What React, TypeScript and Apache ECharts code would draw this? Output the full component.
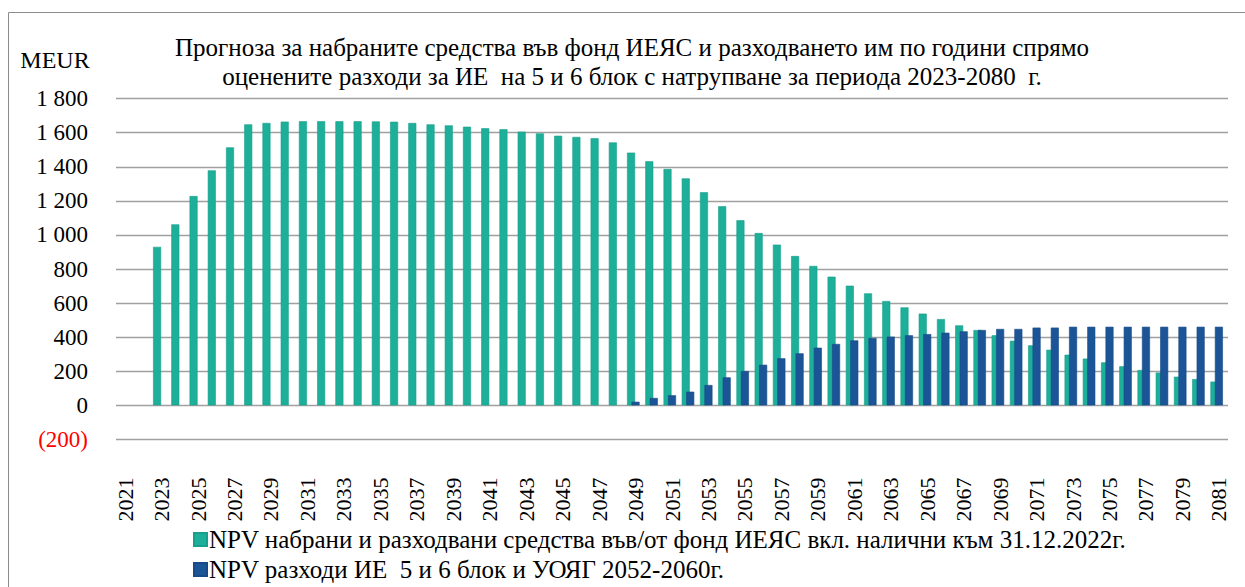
import React, { useEffect, useRef } from "react";
import * as echarts from "echarts";

const years: string[] = [
  "2021", "2022", "2023", "2024", "2025", "2026", "2027", "2028", "2029", "2030",
  "2031", "2032", "2033", "2034", "2035", "2036", "2037", "2038", "2039", "2040",
  "2041", "2042", "2043", "2044", "2045", "2046", "2047", "2048", "2049", "2050",
  "2051", "2052", "2053", "2054", "2055", "2056", "2057", "2058", "2059", "2060",
  "2061", "2062", "2063", "2064", "2065", "2066", "2067", "2068", "2069", "2070",
  "2071", "2072", "2073", "2074", "2075", "2076", "2077", "2078", "2079", "2080",
  "2081",
];

const fundValues: (number | null)[] = [
  null, null, 930, 1062, 1228, 1379, 1514, 1649, 1657, 1665,
  1667, 1667, 1667, 1667, 1666, 1664, 1657, 1649, 1643, 1635,
  1626, 1620, 1606, 1596, 1582, 1575, 1567, 1543, 1483, 1432,
  1387, 1332, 1250, 1168, 1086, 1011, 943, 876, 818, 755,
  702, 657, 612, 575, 538, 506, 469, 442, 411, 379,
  352, 326, 297, 274, 252, 229, 207, 192, 168, 154,
  139,
];

const costValues: (number | null)[] = [
  null, null, null, null, null, null, null, null, null, null,
  null, null, null, null, null, null, null, null, null, null,
  null, null, null, null, null, null, null, null, 21, 43,
  59, 80, 119, 164, 201, 238, 276, 305, 338, 360,
  381, 395, 403, 411, 418, 426, 434, 442, 448, 448,
  456, 456, 461, 461, 461, 461, 461, 461, 461, 461,
  461,
];

const fundName = "NPV набрани и разходвани средства във/от фонд ИЕЯС вкл. налични към 31.12.2022г.";
const costName = "NPV разходи ИЕ  5 и 6 блок и УОЯГ 2052-2060г.";
const titleLines = [
  "Прогноза за набраните средства във фонд ИЕЯС и разходването им по години спрямо",
  "оценените разходи за ИЕ  на 5 и 6 блок с натрупване за периода 2023-2080  г.",
];
const unitLabel = "MEUR";

const FONT = "Liberation Serif";

function fmt(v: number): string {
  const abs = Math.abs(v);
  const s = String(abs).replace(/\B(?=(\d{3})+(?!\d))/g, " ");
  return v < 0 ? `(${s})` : s;
}

export default function App() {
  const ref = useRef<HTMLDivElement>(null);
  useEffect(() => {
    if (!ref.current) return;
    const chart = echarts.init(ref.current, null, { renderer: "svg" });
    chart.setOption({
      animation: false,
      backgroundColor: "#ffffff",
      textStyle: { fontFamily: FONT },
      graphic: [
        {
          type: "rect",
          shape: { x: 8.5, y: 12.5, width: 1260, height: 600 },
          style: { fill: "none", stroke: "#8c8c8c", lineWidth: 1 },
          silent: true,
        },
        {
          type: "text",
          x: 632,
          y: 33,
          style: {
            text: titleLines.join("\n"),
            fontFamily: FONT,
            fontSize: 25,
            fill: "#000",
            textAlign: "center",
            lineHeight: 29,
          },
        },
        {
          type: "text",
          x: 55,
          y: 48,
          style: {
            text: unitLabel,
            fontFamily: FONT,
            fontSize: 24,
            fill: "#000",
            textAlign: "center",
          },
        },
      ],
      legend: {
        orient: "vertical",
        left: 188,
        top: 522,
        itemWidth: 13,
        itemHeight: 13,
        itemGap: 5,
        icon: "rect",
        data: [fundName, costName],
        textStyle: { fontFamily: FONT, fontSize: 25, color: "#000", padding: [0, 0, 0, -3] },
      },
      grid: { left: 116, right: 17, top: 98.6, bottom: 147.6, containLabel: false },
      xAxis: {
        type: "category",
        data: years,
        axisLine: { show: false, onZero: false },
        axisTick: { show: false },
        axisLabel: {
          interval: 1,
          rotate: 90,
          margin: 38,
          fontFamily: FONT,
          fontSize: 22,
          color: "#000",
        },
      },
      yAxis: {
        type: "value",
        min: -200,
        max: 1800,
        interval: 200,
        axisLine: { show: false },
        axisTick: { show: false },
        splitLine: { lineStyle: { color: "#a0a0a0", width: 1.3 } },
        axisLabel: {
          margin: 28,
          fontFamily: FONT,
          fontSize: 23,
          formatter: (v: number) => fmt(v),
          color: (v: any) => (Number(v) < 0 ? "#ff0000" : "#000000"),
        },
      },
      series: [
        {
          name: fundName,
          type: "bar",
          data: fundValues,
          barWidth: 8,
          itemStyle: { color: "#1daf99", borderColor: "#17a08b", borderWidth: 0.6 },
        },
        {
          name: costName,
          type: "bar",
          data: costValues,
          barWidth: 8,
          itemStyle: { color: "#1b5597", borderColor: "#174a86", borderWidth: 0.6 },
        },
        {
          name: "",
          type: "bar",
          data: [],
          barWidth: 8,
          barGap: "-44%",
          silent: true,
        },
      ],
    });
    return () => chart.dispose();
  }, []);
  return (
    <div
      ref={ref}
      style={{ position: "absolute", left: 0, top: 0, width: 1245, height: 587 }}
    />
  );
}
